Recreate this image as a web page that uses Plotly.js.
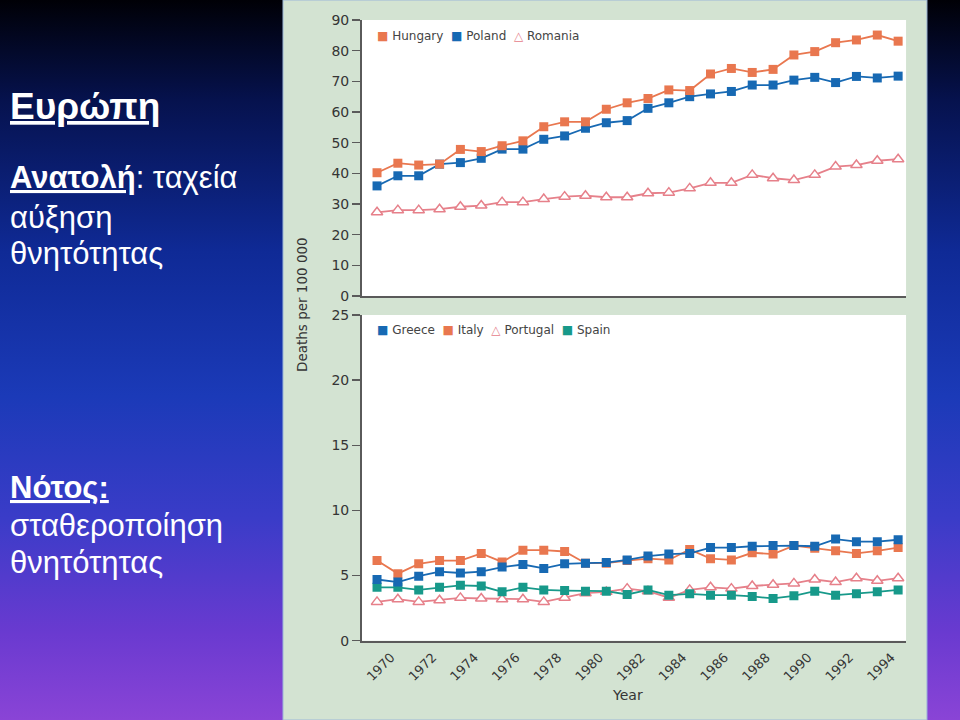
<!DOCTYPE html>
<html>
<head>
<meta charset="utf-8">
<script src="https://cdn.plot.ly/plotly-3.0.1.min.js"></script>
<style>
  html, body { margin: 0; padding: 0; }
  body {
    width: 960px; height: 720px; overflow: hidden;
    background: linear-gradient(to bottom, #000006 0%, #06124e 14%, #0f2a96 35%, #1b3ab8 55%, #3a3cc8 72%, #6a3ad0 88%, #8a44d6 100%);
  }
  #chart { width: 960px; height: 720px; }
</style>
</head>
<body>
<div id="chart"></div>
<script>
// years shared by both panels
const years = [1970, 1971, 1972, 1973, 1974, 1975, 1976, 1977, 1978, 1979, 1980, 1981, 1982,
    1983, 1984, 1985, 1986, 1987, 1988, 1989, 1990, 1991, 1992, 1993, 1994, 1995];

// east (deaths per 100 000)
const hungary = [40.2, 43.3, 42.7, 43.0, 47.8, 47.1, 49.0, 50.6, 55.2, 56.8, 56.8, 60.9, 63.0,
    64.4, 67.2, 67.0, 72.4, 74.2, 72.9, 73.9, 78.6, 79.7, 82.6, 83.5, 85.1, 83.1];
const poland = [35.9, 39.2, 39.2, 43.0, 43.5, 44.9, 47.9, 47.9, 51.1, 52.2, 54.7, 56.5, 57.2,
    61.2, 63.0, 65.0, 65.9, 66.7, 68.8, 68.8, 70.4, 71.3, 69.6, 71.6, 71.1, 71.7];
const romania = [27.3, 28.0, 28.0, 28.3, 29.1, 29.5, 30.6, 30.6, 31.6, 32.4, 32.7, 32.2, 32.2,
    33.5, 33.7, 35.1, 36.9, 36.9, 39.5, 38.4, 37.8, 39.5, 42.2, 42.7, 44.1, 44.6];

// south
const greece = [4.7, 4.5, 4.95, 5.3, 5.2, 5.3, 5.65, 5.85, 5.55, 5.9, 5.95, 6.0, 6.2,
    6.5, 6.65, 6.7, 7.15, 7.15, 7.25, 7.3, 7.3, 7.25, 7.8, 7.6, 7.6, 7.75];
const italy = [6.15, 5.15, 5.9, 6.15, 6.15, 6.7, 6.05, 6.95, 6.95, 6.85, 5.95, 5.95, 6.15,
    6.3, 6.2, 7.0, 6.3, 6.2, 6.75, 6.65, 7.3, 7.1, 6.9, 6.7, 6.9, 7.15];
const portugal = [2.98, 3.19, 2.98, 3.11, 3.29, 3.24, 3.19, 3.19, 2.98, 3.3, 3.65, 3.75, 4.0,
    3.8, 3.3, 3.9, 4.1, 4.0, 4.2, 4.3, 4.4, 4.7, 4.5, 4.8, 4.6, 4.8];
const spain = [4.1, 4.1, 3.9, 4.1, 4.25, 4.2, 3.75, 4.1, 3.9, 3.85, 3.8, 3.8, 3.55,
    3.9, 3.5, 3.6, 3.5, 3.5, 3.4, 3.25, 3.45, 3.8, 3.5, 3.6, 3.75, 3.9];

const orange = '#e9774f';
const blue = '#1769b3';
const pink = '#e6808a';
const teal = '#17998a';
const font = 'Liberation Sans, Arial, sans-serif';
const chartFont = 'DejaVu Sans, Verdana, sans-serif';
const inkColor = '#353535';

function series(name, y, color, open, xa, ya) {
    return {
        x: years,
        y: y,
        name: name,
        xaxis: xa,
        yaxis: ya,
        type: 'scatter',
        mode: 'lines+markers',
        line: { color: color, width: 1.8 },
        marker: open
            ? { symbol: 'triangle-up', size: 10, color: '#ffffff', line: { color: color, width: 1.5 } }
            : { symbol: 'square', size: 9, color: color },
        showlegend: false,
    };
}

const traces = [
    series('Romania', romania, pink, true, 'x', 'y'),
    series('Poland', poland, blue, false, 'x', 'y'),
    series('Hungary', hungary, orange, false, 'x', 'y'),
    series('Portugal', portugal, pink, true, 'x2', 'y2'),
    series('Spain', spain, teal, false, 'x2', 'y2'),
    series('Italy', italy, orange, false, 'x2', 'y2'),
    series('Greece', greece, blue, false, 'x2', 'y2'),
];

const xDomain = [0.3771, 0.9438];
const xRange = [1969.28, 1995.38];
const axisLine = '#5a5a5a';
const tickFont = { family: chartFont, size: 14, color: inkColor };

function note(text, x, y, size, extra) {
    return Object.assign({
        xref: 'paper', yref: 'paper', x: x, y: y,
        xanchor: 'left', yanchor: 'middle',
        text: text, showarrow: false,
        font: { family: font, size: size, color: '#ffffff' },
    }, extra || {});
}

const legendTop = `<span style="color:${orange}">■</span> Hungary  <span style="color:${blue}">■</span> Poland  <span style="color:${pink}">△</span> Romania`;
const legendBottom = `<span style="color:${blue}">■</span> Greece  <span style="color:${orange}">■</span> Italy  <span style="color:${pink}">△</span> Portugal  <span style="color:${teal}">■</span> Spain`;
const legendFont = { family: chartFont, size: 12, color: '#444444' };

const layout = {
    width: 960,
    height: 720,
    margin: { t: 0, r: 0, b: 0, l: 0 },
    paper_bgcolor: 'rgba(0,0,0,0)',
    plot_bgcolor: 'rgba(0,0,0,0)',
    font: { family: font },
    xaxis: {
        domain: xDomain, anchor: 'y', range: xRange,
        showticklabels: false, ticks: '', showgrid: false, zeroline: false,
        showline: true, linecolor: axisLine, linewidth: 2,
    },
    yaxis: {
        domain: [0.5889, 0.9722], anchor: 'x', range: [0, 90], dtick: 10,
        ticks: 'outside', ticklen: 8, tickcolor: axisLine, tickwidth: 1.5,
        showgrid: false, zeroline: false,
        showline: true, linecolor: axisLine, linewidth: 2,
        tickfont: tickFont,
    },
    xaxis2: {
        domain: xDomain, anchor: 'y2', range: xRange,
        tickmode: 'linear', tick0: 1970, dtick: 2, tickangle: -45, ticks: '',
        ticklabelshift: 14, ticklabelstandoff: 2,
        showgrid: false, zeroline: false,
        showline: true, linecolor: axisLine, linewidth: 2,
        tickfont: { family: chartFont, size: 13, color: inkColor },
    },
    yaxis2: {
        domain: [0.1101, 0.5625], anchor: 'x2', range: [0, 25], dtick: 5,
        ticks: 'outside', ticklen: 8, tickcolor: axisLine, tickwidth: 1.5,
        showgrid: false, zeroline: false,
        showline: true, linecolor: axisLine, linewidth: 2,
        tickfont: tickFont,
    },
    shapes: [
        {
            type: 'rect', xref: 'paper', yref: 'paper', layer: 'below',
            x0: 0.2948, x1: 0.9656, y0: 0, y1: 1,
            fillcolor: '#d3e3d2', line: { color: '#9db8d8', width: 1 },
        },
        {
            type: 'rect', xref: 'paper', yref: 'paper', layer: 'below',
            x0: xDomain[0], x1: xDomain[1], y0: 0.5889, y1: 0.9722,
            fillcolor: '#ffffff', line: { width: 0 },
        },
        {
            type: 'rect', xref: 'paper', yref: 'paper', layer: 'below',
            x0: xDomain[0], x1: xDomain[1], y0: 0.1101, y1: 0.5625,
            fillcolor: '#ffffff', line: { width: 0 },
        },
    ],
    annotations: [
        note('<b><u>Ευρώπη</u></b>', 0.0083, 0.8514, 37),
        note('<b><u>Ανατολή</u></b>: ταχεία', 0.0083, 0.7528, 31),
        note('αύξηση', 0.0083, 0.6986, 31),
        note('θνητότητας', 0.0083, 0.6486, 31),
        note('<b><u>Νότος:</u></b>', 0.0083, 0.3236, 31),
        note('σταθεροποίηση', 0.0083, 0.2708, 31),
        note('θνητότητας', 0.0083, 0.2194, 31),
        note(legendTop, 0.3906, 0.95, 12, { font: legendFont }),
        note(legendBottom, 0.3906, 0.5417, 12, { font: legendFont }),
        note('Deaths per 100 000', 0.3146, 0.5764, 13, {
            xanchor: 'center', textangle: -90,
            font: { family: chartFont, size: 13.5, color: inkColor },
        }),
        note('Year', 0.654, 0.0347, 14, {
            xanchor: 'center',
            font: { family: chartFont, size: 14, color: inkColor },
        }),
    ],
};

Plotly.newPlot('chart', traces, layout, { displayModeBar: false, staticPlot: true });
</script>
</body>
</html>
